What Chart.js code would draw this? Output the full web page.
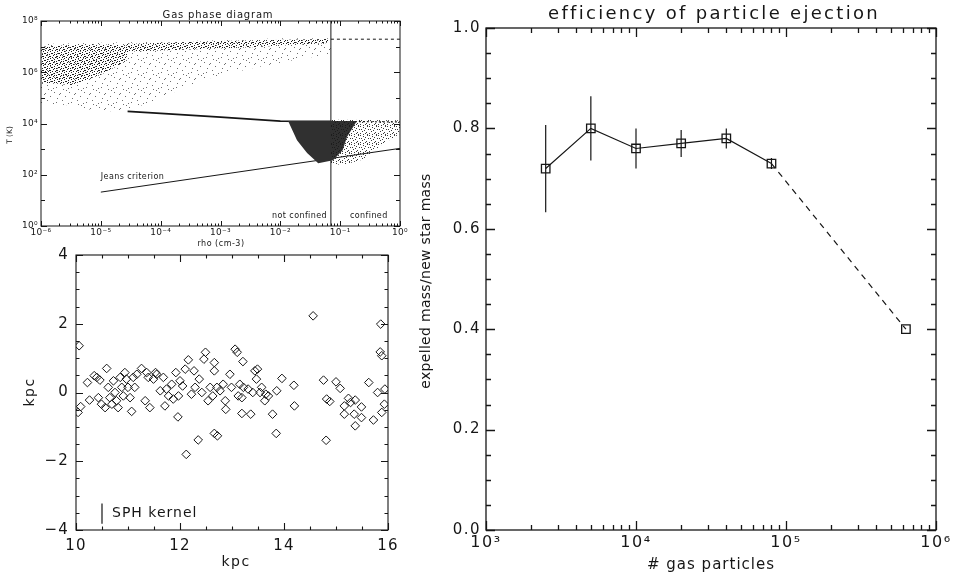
<!DOCTYPE html>
<html><head><meta charset="utf-8">
<script src="https://cdn.jsdelivr.net/npm/chart.js@4.4.1/dist/chart.umd.min.js"></script>
<style>
html,body{margin:0;padding:0;background:#fff;}
body{width:957px;height:575px;position:relative;overflow:hidden;}
canvas{position:absolute;}
#c1{left:0;top:0;}
#c2{left:0;top:240px;}
#c3{left:410px;top:0;}
</style></head><body>
<canvas id="c1" width="410" height="255"></canvas>
<canvas id="c2" width="410" height="335"></canvas>
<canvas id="c3" width="547" height="575"></canvas>
<script>
// ===== Panel 1: gas phase diagram (rho [cm^-3], T [K]) — outlines of the particle clouds
const gasHotCloud = [[1e-6,1.26e7],[1e-5,1.41e7],[1e-4,1.58e7],[1e-3,1.78e7],[1e-2,2.1e7],[7e-2,2.1e7],[7e-2,5e6],[2e-2,3.2e6],[3.2e-3,1.4e6],[5e-4,5e5],[1e-4,1e5],[3.2e-5,3.5e4],[1e-5,2.8e4],[3.2e-6,5e4],[1e-6,6.3e4]];
const gasHotCore = [[1e-6,1e7],[6.3e-6,1.26e7],[3.2e-5,1.1e7],[2.5e-5,2.5e6],[1e-5,8e5],[3.2e-6,3.2e5],[1e-6,4e5]];
const gasHotBand = [[2.5e-5,1.26e7],[1e-3,1.66e7],[6.3e-2,2e7],[6.3e-2,1.4e7],[3.2e-3,9.5e6],[2.5e-5,6.3e6]];
const gasColdHalo = [[7e-2,1.4e4],[1,1.35e4],[1,4e3],[0.5,1.5e3],[0.25,4e2],[0.12,2.5e2],[7e-2,2.5e2]];
const gasColdCore = [[1.35e-2,1.26e4],[0.19,1.26e4],[0.13,3.0e3],[0.11,9.0e2],[7.6e-2,3.7e2],[4.3e-2,2.8e2],[2.8e-2,7.0e2],[1.9e-2,2.2e3]];
const gasWarmBand = [[2.8e-5,3.0e4],[1e-4,2.5e4],[1e-3,1.78e4],[1e-2,1.23e4],[7e-2,1.2e4]];
const gasWarmTail = [[7e-2,1.2e4],[1,1.15e4]];
const gasHotCap = [[7e-2,1.95e7],[1,1.95e7]];
const jeansLine = [[1e-5,21],[1,1070]];
const confineLine = [[0.07,1],[0.07,1e8]];
const gasXTicks = [1e-6,1e-5,1e-4,1e-3,1e-2,1e-1,1];
const gasXLabels = ['10\u207B\u2076','10\u207B\u2075','10\u207B\u2074','10\u207B\u00B3','10\u207B\u00B2','10\u207B\u00B9','10\u2070'];
const gasYTicks = [1,1e2,1e4,1e6,1e8];
const gasYLabels = ['10\u2070','10\u00B2','10\u2074','10\u2076','10\u2078'];

// ===== Panel 2: particle positions (kpc)
const kpcPoints = [[10.06,1.36],[10.04,-0.58],[10.09,-0.41],[10.22,0.29],[10.26,-0.22],[10.35,0.49],[10.40,0.44],[10.46,0.36],[10.43,-0.15],[10.49,-0.34],[10.59,0.70],[10.56,-0.44],[10.62,0.15],[10.65,-0.15],[10.69,-0.34],[10.72,0.34],[10.75,0.00],[10.78,-0.24],[10.81,-0.44],[10.85,0.44],[10.88,0.15],[10.91,-0.10],[10.94,0.58],[10.97,0.39],[11.00,0.15],[11.04,-0.15],[11.07,-0.55],[11.10,0.44],[11.13,0.15],[11.17,0.53],[11.26,0.70],[11.36,0.58],[11.33,-0.24],[11.39,0.44],[11.42,-0.44],[11.49,0.39],[11.53,0.58],[11.55,0.53],[11.62,0.05],[11.68,0.44],[11.71,-0.39],[11.74,0.10],[11.78,-0.10],[11.84,0.24],[11.87,-0.19],[11.92,0.58],[11.96,-0.71],[11.97,-0.10],[12.00,0.34],[12.05,0.19],[12.10,0.68],[12.12,-1.80],[12.16,0.95],[12.22,-0.05],[12.29,0.15],[12.27,0.63],[12.35,-1.38],[12.37,0.39],[12.42,0.00],[12.46,0.97],[12.49,1.17],[12.54,-0.24],[12.58,0.15],[12.63,-0.10],[12.66,0.87],[12.66,0.63],[12.66,-1.19],[12.72,-1.26],[12.71,0.15],[12.77,0.05],[12.83,0.24],[12.87,-0.24],[12.88,-0.49],[12.96,0.53],[12.99,0.15],[13.06,1.26],[13.10,1.17],[13.12,-0.10],[13.15,0.24],[13.19,-0.15],[13.21,0.90],[13.22,0.15],[13.19,-0.61],[13.31,0.10],[13.36,-0.63],[13.40,0.00],[13.44,0.63],[13.47,0.39],[13.49,0.68],[13.54,0.00],[13.57,0.15],[13.63,-0.24],[13.65,-0.05],[13.70,-0.10],[13.78,-0.63],[13.85,-1.19],[13.86,0.05],[13.96,0.41],[14.19,0.21],[14.20,-0.39],[14.56,2.23],[14.76,0.36],[14.81,-1.39],[14.82,-0.19],[14.88,-0.26],[15.00,0.31],[15.08,0.12],[15.16,-0.39],[15.16,-0.63],[15.24,-0.17],[15.28,-0.29],[15.35,-0.63],[15.37,-0.22],[15.37,-0.97],[15.49,-0.42],[15.49,-0.73],[15.63,0.29],[15.72,-0.80],[15.80,0.00],[15.86,1.99],[15.85,1.18],[15.88,1.07],[15.88,-0.58],[15.94,0.10],[15.93,-0.34]];
const kernelBar = [[10.5,-3.23],[10.5,-3.82]];
const kpcXTicks = [10,12,14,16];
const kpcXLabels = ['10','12','14','16'];
const kpcYTicks = [-4,-2,0,2,4];
const kpcYLabels = ['\u22124','\u22122','0','2','4'];

// ===== Panel 3: efficiency of particle ejection
const effN = [2500,5000,10000,20000,40000,80000];
const effValue = [0.72,0.80,0.76,0.77,0.78,0.73];
const effError = [0.087,0.064,0.04,0.027,0.02,0.011];
const hiResN = [80000,630000];
const hiResValue = [0.73,0.40];
const effXTicks = [1e3,1e4,1e5,1e6];
const effXLabels = ['10\u00B3','10\u2074','10\u2075','10\u2076'];
const effYTicks = [0,0.2,0.4,0.6,0.8,1.0];
const effYLabels = ['0.0','0.2','0.4','0.6','0.8','1.0'];

// ===== helpers
const INK = '#161616';
const FAMILY = '"DejaVu Sans", "Liberation Sans", sans-serif';
const pts = pairs => pairs.map(p => ({x:p[0], y:p[1]}));
const zip = (xs, ys) => xs.map((x,i) => ({x, y:ys[i]}));
function logMinor(lo, hi){ const o=[]; for(let e=lo;e<hi;e++) for(let m=2;m<=9;m++) o.push(m*Math.pow(10,e)); return o; }
function steps(a,b,s){ const o=[]; for(let v=a; v<=b+1e-9; v+=s) o.push(+v.toFixed(6)); return o; }
function pattern(id, size, pixels, color){
  const c=document.createElement('canvas'); c.width=c.height=size;
  const g=c.getContext('2d'); g.fillStyle=color;
  pixels.forEach(([x,y,w,h]) => g.fillRect(x,y,w||1,h||1));
  return document.getElementById(id).getContext('2d').createPattern(c,'repeat');
}
function polygon(pairs, bg){ return {data:pts(pairs), showLine:true, fill:'shape', backgroundColor:bg, borderColor:'rgba(0,0,0,0)', borderWidth:0, pointRadius:0, tension:0}; }
function line(pairs, w, dash){ return {data:pts(pairs), showLine:true, fill:false, borderColor:INK, borderWidth:w, borderDash:dash||[], pointRadius:0, tension:0}; }

const decor = {
  id:'decor',
  beforeDraw(chart, args, o){ chart.ctx.letterSpacing = (o.tickSpacing||0)+'px'; },
  afterDraw(chart, args, o){
    const ctx=chart.ctx, a=chart.chartArea, xs=chart.scales.x, ys=chart.scales.y;
    ctx.save();
    ctx.strokeStyle=INK; ctx.lineWidth=o.lineWidth||1.2;
    ctx.beginPath();
    const xt=(vals,len)=>vals.forEach(v=>{const p=Math.round(xs.getPixelForValue(v))+0.5; ctx.moveTo(p,a.bottom); ctx.lineTo(p,a.bottom-len); ctx.moveTo(p,a.top); ctx.lineTo(p,a.top+len);});
    const yt=(vals,len)=>vals.forEach(v=>{const p=Math.round(ys.getPixelForValue(v))+0.5; ctx.moveTo(a.left,p); ctx.lineTo(a.left+len,p); ctx.moveTo(a.right,p); ctx.lineTo(a.right-len,p);});
    xt(o.xMajor,o.xMajLen); xt(o.xMinor,o.xMinLen); yt(o.yMajor,o.yMajLen); yt(o.yMinor,o.yMinLen);
    ctx.stroke();
    ctx.strokeRect(a.left,a.top,a.right-a.left,a.bottom-a.top);
    ctx.fillStyle=INK;
    for(const t of o.texts){
      ctx.save();
      ctx.font = t.size+'px '+FAMILY;
      ctx.letterSpacing=(t.sp||0)+'px';
      ctx.textAlign=t.align||'center'; ctx.textBaseline='middle';
      let x=t.x, y=t.y;
      if(t.data){ x=xs.getPixelForValue(t.data[0]); y=ys.getPixelForValue(t.data[1]); }
      ctx.translate(x,y); if(t.rot) ctx.rotate(t.rot*Math.PI/180);
      ctx.fillText(t.text,0,0);
      ctx.restore();
    }
    ctx.restore();
  }
};
Chart.register(decor);

function scaleOpt(axis, s){
  return {
    type:s.type, min:s.min, max:s.max, position: axis==='x'?'bottom':'left',
    grid:{display:false, drawTicks:false}, border:{display:false},
    ticks:{color:INK, font:{family:FAMILY, size:s.fontSize}, padding:s.pad, autoSkip:false, maxRotation:0, minRotation:0,
      callback:(v,i)=>s.labels[i]},
    afterBuildTicks: sc => { sc.ticks = s.ticks.map(v=>({value:v})); },
    afterFit: sc => { if(axis==='x'){ sc.height=s.size; sc.paddingLeft=0; sc.paddingRight=0; } else { sc.width=s.size; sc.paddingTop=0; sc.paddingBottom=0; } }
  };
}
function opts(c){
  return {
    responsive:false, animation:false, devicePixelRatio:1,
    layout:{padding:c.pad},
    plugins:{legend:{display:false}, tooltip:{enabled:false}, decor:c.decor},
    scales:{x:scaleOpt('x',c.x), y:scaleOpt('y',c.y)}
  };
}

// ===== Chart 1  (speckle textures for the particle clouds)
const patLight = pattern('c1', 15, [[0,3],[2,10],[5,6],[8,13],[9,2],[12,8],[14,4],[6,0],[11,12],[3,14]], 'rgba(50,50,50,0.7)');
const patMid = pattern('c1', 9, [[0,0],[3,1],[1,3],[4,4],[5,2],[2,5],[7,0],[6,6],[8,3],[0,7],[3,8],[7,8],[5,7]], 'rgba(25,25,25,0.85)');
const patDark = pattern('c1', 7, [[0,0,2,1],[3,1],[1,2],[5,3],[2,4,2,1],[4,6],[6,1],[0,5],[5,5]], '#1c1c1c');
new Chart(document.getElementById('c1'), {
  type:'line',
  data:{datasets:[
    polygon(gasHotCloud, patLight),
    polygon(gasHotCore, patDark),
    polygon(gasHotBand, patDark),
    polygon(gasColdHalo, patMid),
    polygon(gasColdCore, '#303030'),
    line(gasWarmBand, 1.8),
    line(gasWarmTail, 1.2, [2,2]),
    line(gasHotCap, 1, [3,3]),
    line(jeansLine, 1),
    line(confineLine, 1)
  ]},
  options:opts({
    pad:{left:0, right:10, top:21, bottom:0},
    x:{type:'logarithmic', min:1e-6, max:1, ticks:gasXTicks, labels:gasXLabels, fontSize:9, pad:1, size:29},
    y:{type:'logarithmic', min:1, max:1e8, ticks:gasYTicks, labels:gasYLabels, fontSize:9, pad:3, size:41},
    decor:{tickSpacing:0.3, lineWidth:1,
      xMajor:gasXTicks, xMajLen:5, xMinor:logMinor(-6,0), xMinLen:2.5,
      yMajor:gasYTicks, yMajLen:6, yMinor:[10,1e3,1e5,1e7], yMinLen:4,
      texts:[
        {text:'Gas phase diagram', x:218, y:15, size:10, sp:0.8},
        {text:'rho (cm-3)', x:221, y:244, size:8, sp:0.5},
        {text:'T (K)', x:10, y:135, size:7.5, rot:-90},
        {text:'Jeans criterion', data:[1e-5, 80], align:'left', size:8, sp:0.4},
        {text:'not confined', x:327, y:216, align:'right', size:8, sp:0.4},
        {text:'confined', x:350, y:216, align:'left', size:8, sp:0.4}
      ]}
  })
});

// ===== Chart 2
new Chart(document.getElementById('c2'), {
  type:'line',
  data:{datasets:[
    {data:pts(kpcPoints), showLine:false, pointStyle:'rectRot', pointRadius:4.3, pointBorderColor:INK, pointBackgroundColor:'rgba(0,0,0,0)', pointBorderWidth:1},
    line(kernelBar, 1.2)
  ]},
  options:opts({
    pad:{left:0, right:22, top:15, bottom:0},
    x:{type:'linear', min:10, max:16, ticks:kpcXTicks, labels:kpcXLabels, fontSize:15, pad:7, size:45},
    y:{type:'linear', min:-4, max:4, ticks:kpcYTicks, labels:kpcYLabels, fontSize:15, pad:7, size:76},
    decor:{tickSpacing:1.2, lineWidth:1.1,
      xMajor:kpcXTicks, xMajLen:7, xMinor:steps(10,16,0.5), xMinLen:3.5,
      yMajor:kpcYTicks, yMajLen:7, yMinor:steps(-4,4,0.5), yMinLen:3.5,
      texts:[
        {text:'kpc', x:236, y:322, size:14, sp:1.5},
        {text:'kpc', x:30, y:152, size:14, sp:1.5, rot:-90},
        {text:'SPH kernel', x:112, y:273, align:'left', size:14, sp:1}
      ]}
  })
});

// ===== Chart 3
const errSegments = [];
effN.forEach((n,i)=>{ errSegments.push({x:n,y:effValue[i]-effError[i]},{x:n,y:effValue[i]+effError[i]},{x:n,y:null}); });
new Chart(document.getElementById('c3'), {
  type:'line',
  data:{datasets:[
    {data:errSegments, showLine:true, spanGaps:false, fill:false, borderColor:INK, borderWidth:1.2, pointRadius:0},
    {data:zip(hiResN,hiResValue), showLine:true, fill:false, borderColor:INK, borderWidth:1.2, borderDash:[6,5], pointStyle:'rect', pointRadius:[0,6], pointBorderColor:INK, pointBackgroundColor:'rgba(0,0,0,0)', pointBorderWidth:1.3},
    {data:zip(effN,effValue), showLine:true, fill:false, borderColor:INK, borderWidth:1.2, pointStyle:'rect', pointRadius:6, pointBorderColor:INK, pointBackgroundColor:'rgba(0,0,0,0)', pointBorderWidth:1.3}
  ]},
  options:opts({
    pad:{left:0, right:21, top:28, bottom:0},
    x:{type:'logarithmic', min:1e3, max:1e6, ticks:effXTicks, labels:effXLabels, fontSize:16, pad:3, size:45},
    y:{type:'linear', min:0, max:1, ticks:effYTicks, labels:effYLabels, fontSize:15, pad:5, size:76},
    decor:{tickSpacing:1.5, lineWidth:1.3,
      xMajor:effXTicks, xMajLen:9, xMinor:logMinor(3,6), xMinLen:5,
      yMajor:effYTicks, yMajLen:9, yMinor:steps(0,1,0.05), yMinLen:5,
      texts:[
        {text:'efficiency of particle ejection', x:304, y:14, size:18, sp:2.3},
        {text:'expelled mass/new star mass', x:16, y:281, size:14, sp:0.3, rot:-90},
        {text:'# gas particles', x:301, y:565, size:15, sp:1}
      ]}
  })
});
</script>
</body></html>
